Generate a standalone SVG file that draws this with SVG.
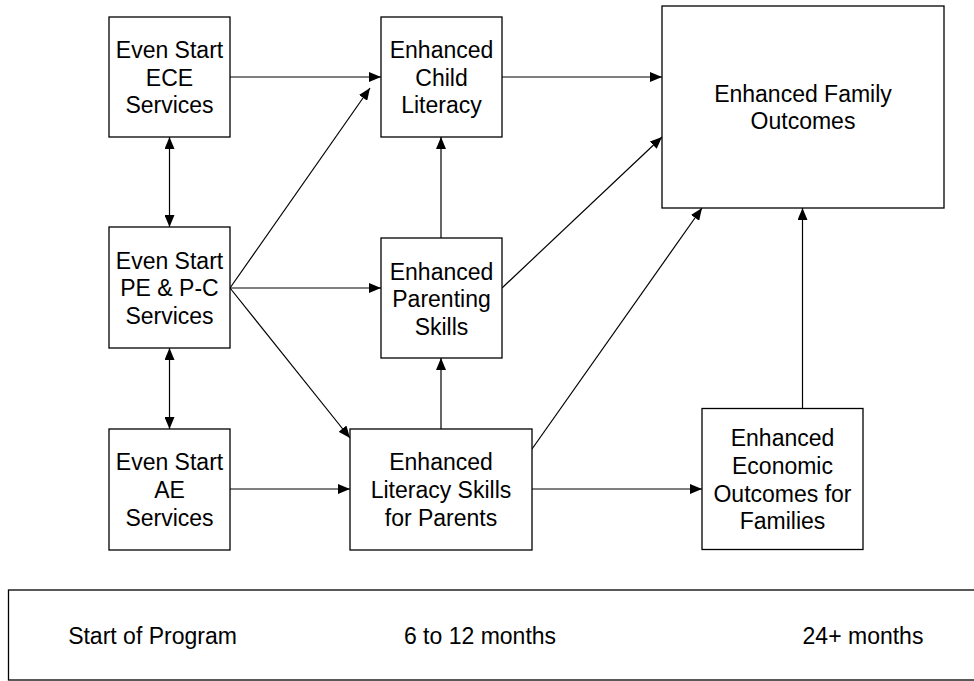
<svg xmlns="http://www.w3.org/2000/svg" width="974" height="681" viewBox="0 0 974 681">
<defs>
<style>
.box{fill:#fff;stroke:#000;stroke-width:1.3}
.lbl{font-family:"Liberation Sans",Arial,sans-serif;font-size:23px;fill:#000;text-anchor:middle}
.con{fill:none;stroke:#000;stroke-width:1.2}
</style>
<marker id="ah" viewBox="0 0 12 10" refX="12" refY="5" markerWidth="12" markerHeight="10" markerUnits="userSpaceOnUse" orient="auto-start-reverse">
<path d="M0,0 L12,5 L0,10 z" fill="#000"/>
</marker>
</defs>
<rect width="974" height="681" fill="#fff"/>
<g id="connectors">
<line class="con" x1="230" y1="77" x2="381" y2="77" marker-end="url(#ah)"/>
<line class="con" x1="502" y1="77" x2="662" y2="77" marker-end="url(#ah)"/>
<line class="con" x1="230" y1="288" x2="370" y2="88" marker-end="url(#ah)"/>
<line class="con" x1="230" y1="288" x2="381" y2="288" marker-end="url(#ah)"/>
<line class="con" x1="230" y1="288" x2="350" y2="438" marker-end="url(#ah)"/>
<line class="con" x1="169.5" y1="137" x2="169.5" y2="227" marker-start="url(#ah)" marker-end="url(#ah)"/>
<line class="con" x1="169.5" y1="348" x2="169.5" y2="429" marker-start="url(#ah)" marker-end="url(#ah)"/>
<line class="con" x1="230" y1="489" x2="350" y2="489" marker-end="url(#ah)"/>
<line class="con" x1="441" y1="238" x2="441" y2="137" marker-end="url(#ah)"/>
<line class="con" x1="441" y1="429" x2="441" y2="358" marker-end="url(#ah)"/>
<line class="con" x1="502" y1="288" x2="662" y2="137" marker-end="url(#ah)"/>
<line class="con" x1="532" y1="449" x2="702" y2="208" marker-end="url(#ah)"/>
<line class="con" x1="532" y1="489" x2="702" y2="489" marker-end="url(#ah)"/>
<line class="con" x1="802.5" y1="408" x2="802.5" y2="208" marker-end="url(#ah)"/>
</g>
<g id="ece">
<rect class="box" x="109" y="17" width="121" height="120"/>
<text class="lbl" x="169.5" y="58">Even Start</text>
<text class="lbl" x="169.5" y="85.5">ECE</text>
<text class="lbl" x="169.5" y="113">Services</text>
</g>
<g id="pe">
<rect class="box" x="109" y="227" width="121" height="121"/>
<text class="lbl" x="169.5" y="268.5">Even Start</text>
<text class="lbl" x="169.5" y="296">PE &amp; P-C</text>
<text class="lbl" x="169.5" y="323.5">Services</text>
</g>
<g id="ae">
<rect class="box" x="109" y="429" width="121" height="121"/>
<text class="lbl" x="169.5" y="470">Even Start</text>
<text class="lbl" x="169.5" y="498">AE</text>
<text class="lbl" x="169.5" y="525.5">Services</text>
</g>
<g id="child">
<rect class="box" x="381" y="17" width="121" height="120"/>
<text class="lbl" x="441.5" y="58">Enhanced</text>
<text class="lbl" x="441.5" y="85.5">Child</text>
<text class="lbl" x="441.5" y="113">Literacy</text>
</g>
<g id="parenting">
<rect class="box" x="381" y="238" width="121" height="120"/>
<text class="lbl" x="441.5" y="279.5">Enhanced</text>
<text class="lbl" x="441.5" y="307">Parenting</text>
<text class="lbl" x="441.5" y="334.5">Skills</text>
</g>
<g id="literacy">
<rect class="box" x="350" y="429" width="182" height="121"/>
<text class="lbl" x="441" y="470">Enhanced</text>
<text class="lbl" x="441" y="498">Literacy Skills</text>
<text class="lbl" x="441" y="525.5">for Parents</text>
</g>
<g id="family">
<rect class="box" x="662" y="6" width="282" height="202"/>
<text class="lbl" x="803" y="101.5">Enhanced Family</text>
<text class="lbl" x="803" y="129">Outcomes</text>
</g>
<g id="economic">
<rect class="box" x="702" y="408.5" width="161" height="141"/>
<text class="lbl" x="782.5" y="446">Enhanced</text>
<text class="lbl" x="782.5" y="473.5">Economic</text>
<text class="lbl" x="782.5" y="501.5">Outcomes for</text>
<text class="lbl" x="782.5" y="529">Families</text>
</g>
<g id="timeline">
<rect class="box" x="8.5" y="590" width="980" height="90"/>
<text class="lbl" x="152.5" y="644">Start of Program</text>
<text class="lbl" x="480" y="644">6 to 12 months</text>
<text class="lbl" x="863" y="644">24+ months</text>
</g>
</svg>
